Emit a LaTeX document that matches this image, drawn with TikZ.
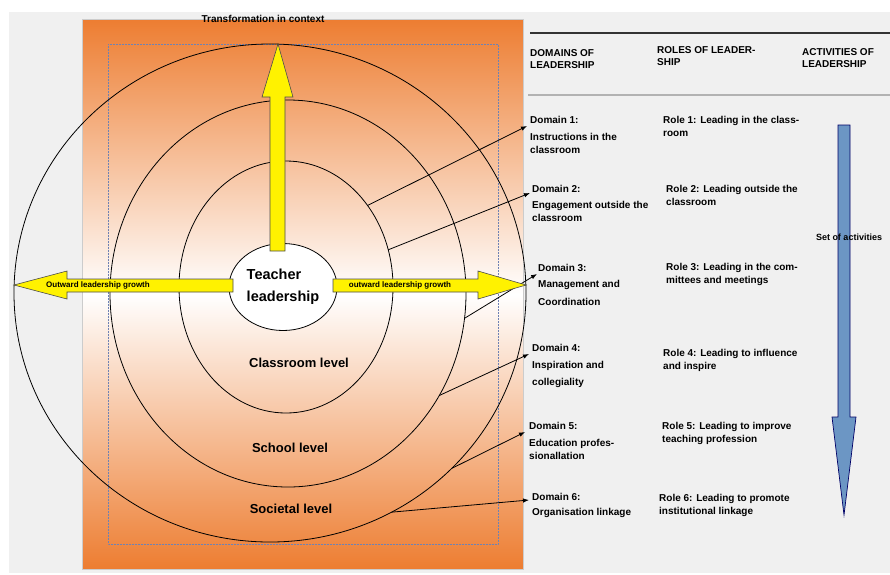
\documentclass[tikz,border=0pt]{standalone}
\usepackage{fontspec}
\setmainfont{Liberation Sans}
\usetikzlibrary{arrows.meta,positioning,shapes.geometric}

\definecolor{bgray}{RGB}{240,240,240}
\definecolor{orng}{RGB}{237,125,49}
\definecolor{steel}{RGB}{108,150,196}
\definecolor{dotblue}{RGB}{110,130,180}

\tikzset{
  ring/.style={draw, ellipse, inner sep=0pt, outer sep=0pt, line width=0.8pt},
  dom/.style={anchor=north west, align=left, inner sep=0pt, font=\fontsize{10}{13}\selectfont\bfseries},
  hdr/.style={dom, font=\fontsize{10}{12.5}\selectfont\bfseries},
  lvl/.style={font=\fontsize{13}{15}\selectfont\bfseries},
  growtxt/.style={inner sep=0pt, font=\fontsize{8}{9}\selectfont\bfseries},
  link/.style={-{Latex[length=6pt,width=4.5pt]}, line width=0.8pt},
  yarrow/.style={fill=yellow, draw=black!70, line width=0.6pt},
}

\begin{document}
\begin{tikzpicture}[x=1pt,y=-1pt]
\path[use as bounding box, fill=white] (0,0) rectangle (890,574);
\fill[bgray] (9,12) rectangle (890,573);

% orange panel with its dotted frame
\shade[top color=orng, bottom color=orng, middle color=white] (82,19) rectangle (523,569);
\draw[gray!40, line width=0.6pt] (82,19) rectangle (523,569);
\draw[dotblue, densely dotted, line width=0.5pt] (108,44) rectangle (498,544);

% levels
\node[ring, minimum width=512pt, minimum height=498pt] (society) at (270,293) {};
\node[ring, minimum width=356pt, minimum height=387pt] (school) at (288,293.5) {};
\node[ring, minimum width=214pt, minimum height=252pt] (classroom) at (286,287) {};

\node[lvl] (lc) at (299,363) {Classroom level};
\node[lvl] (ls) at (290,448) {School level};
\node[lvl] (lo) at (291,509) {Societal level};

% table header
\draw[black!80, line width=1.4pt] (530,33) -- (890,33);
\draw[gray!60, line width=2.5pt] (528,95) -- (890,95);
\node[hdr] (h1) at (530,49) {DOMAINS OF\\LEADERSHIP};
\node[hdr] (h2) at (657,46) {ROLES OF LEADER-\\SHIP};
\node[hdr] (h3) at (802,48) {ACTIVITIES OF\\LEADERSHIP};

% domains
\node[dom] (d1) at (530,116) {Domain 1:\\[4pt]Instructions in the\\classroom};
\node[dom] (d2) at (532,185) {Domain 2:\\[3pt]Engagement outside the\\classroom};
\node[dom] (d3) at (538,264) {Domain 3:\\[3pt]Management and\\[5pt]Coordination};
\node[dom] (d4) at (532,344) {Domain 4:\\[4pt]Inspiration and\\[4pt]collegiality};
\node[dom] (d5) at (529,422) {Domain 5:\\[4pt]Education profes-\\sionallation};
\node[dom] (d6) at (532,493) {Domain 6:\\[2pt]Organisation linkage};

% roles
\node[dom] (r1) at (663,116) {Role 1: Leading in the class-\\room};
\node[dom] (r2) at (666,185) {Role 2: Leading outside the\\classroom};
\node[dom] (r3) at (666,263) {Role 3: Leading  in the com-\\mittees and meetings};
\node[dom] (r4) at (663,349) {Role 4: Leading to influence\\and inspire};
\node[dom] (r5) at (662,422) {Role 5: Leading to improve\\teaching profession};
\node[dom] (r6) at (659,494) {Role 6: Leading to promote\\institutional linkage};

% links from the rings to the domains
\draw[link] (classroom.45) -- ([shift={(-3pt,-10pt)}]d1.north west);
\draw[link] (classroom.20) -- ([shift={(-2pt,-8pt)}]d2.north west);
\draw[link] (school.-8) -- ([shift={(-1pt,-10pt)}]d3.north west);
\draw[link] (school.-34) -- ([shift={(-3pt,-10pt)}]d4.north west);
\draw[link] (society.-44) -- ([shift={(-4pt,-10pt)}]d5.north west);
\draw[link] (society.-61) -- ([shift={(-3pt,-7pt)}]d6.north west);

% centre
\node[ring, fill=white, minimum width=108pt, minimum height=87pt, align=left,
  font=\fontsize{14.5}{22}\selectfont\bfseries] (core) at (283,287) {Teacher\\leadership};

% yellow arrows
\draw[yarrow] (270,251) -- (270,97) -- (262,97) -- (278,44) -- (293,97) -- (285,97) -- (285,251) -- cycle;
\draw[yarrow] (233,279) -- (67,279) -- (67,271) -- (14,285) -- (67,299) -- (67,292) -- (233,292) -- cycle;
\draw[yarrow] (333,279) -- (478,279) -- (478,271) -- (526,285) -- (478,299) -- (478,292) -- (333,292) -- cycle;
\node[growtxt] (gl) at (98,285.5) {Outward leadership growth};
\node[growtxt] (gr) at (400,285.5) {outward leadership growth};
\node[font=\fontsize{10}{12}\selectfont\bfseries] (ctx) at (263,19) {Transformation in context};

% activities
\draw[fill=steel, draw=black!60!blue, line width=0.7pt] (838,125) -- (850,125) -- (850,417) -- (856,417)
  -- (844,515) -- (832,417) -- (838,417) -- cycle;
\node[font=\fontsize{9}{11}\selectfont\bfseries] (acts) at (849,237) {Set of activities};
\end{tikzpicture}
\end{document}
